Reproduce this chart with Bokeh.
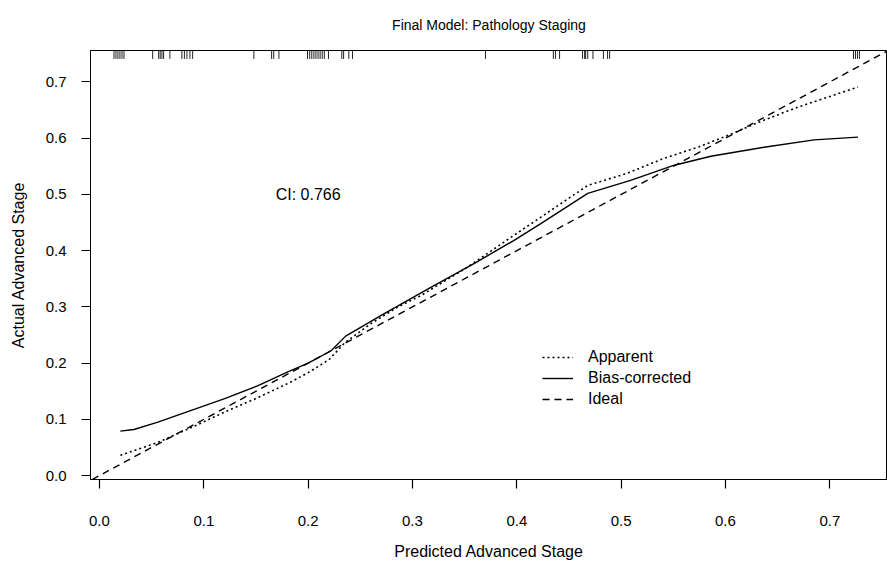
from bokeh.plotting import figure
from bokeh.models import Range1d, Slope, Legend, LegendItem, FixedTicker
from bokeh.core.properties import value
from bokeh.embed import file_html
from bokeh.resources import INLINE

FONT = "Liberation Sans"

title_text = "Final Model: Pathology Staging"
x_title = "Predicted Advanced Stage"
y_title = "Actual Advanced Stage"
ci_text = "CI: 0.766"
ci_pos = (0.2, 0.5)

ticks = [0.0, 0.1, 0.2, 0.3, 0.4, 0.5, 0.6, 0.7]
tick_labels = ["0.0", "0.1", "0.2", "0.3", "0.4", "0.5", "0.6", "0.7"]

apparent_x = [0.020, 0.056, 0.090, 0.120, 0.150, 0.183, 0.200, 0.220, 0.235, 0.260,
              0.286, 0.308, 0.353, 0.397, 0.421, 0.468, 0.505, 0.541, 0.575, 0.605,
              0.634, 0.669, 0.727]
apparent_y = [0.036, 0.059, 0.087, 0.113, 0.137, 0.166, 0.183, 0.206, 0.236, 0.270,
              0.300, 0.320, 0.371, 0.427, 0.457, 0.516, 0.537, 0.564, 0.585, 0.607,
              0.630, 0.655, 0.691]

bias_x = [0.020, 0.033, 0.056, 0.088, 0.120, 0.152, 0.180, 0.200, 0.222, 0.236,
          0.270, 0.318, 0.359, 0.397, 0.423, 0.468, 0.509, 0.551, 0.586, 0.637,
          0.685, 0.727]
bias_y = [0.079, 0.082, 0.095, 0.116, 0.137, 0.160, 0.184, 0.200, 0.222, 0.248,
          0.285, 0.335, 0.377, 0.418, 0.448, 0.502, 0.525, 0.552, 0.568, 0.584,
          0.597, 0.602]

rug_x = [0.0139, 0.0158, 0.0177, 0.0196, 0.0216, 0.0235, 0.051, 0.0567, 0.0582,
         0.0599, 0.0615, 0.0675, 0.079, 0.0814, 0.0838, 0.0867, 0.0893, 0.148,
         0.165, 0.167, 0.172, 0.1994, 0.2015, 0.2035, 0.2055, 0.2075, 0.2095,
         0.2115, 0.2135, 0.2155, 0.2195, 0.2323, 0.234, 0.239, 0.2425, 0.370,
         0.435, 0.437, 0.441, 0.463, 0.465, 0.466, 0.468, 0.473, 0.483, 0.487,
         0.489, 0.7227, 0.7246, 0.7265, 0.7284]

x_range = Range1d(-0.0086, 0.7553)
y_range = Range1d(-0.007, 0.756)

p = figure(width=887, height=562, output_backend="svg", toolbar_location=None,
           x_range=x_range, y_range=y_range,
           min_border_left=90, min_border_right=0, min_border_top=50,
           min_border_bottom=83)

p.title.text = title_text
p.title.align = "center"
p.title.vertical_align = "top"
p.title.text_font = FONT
p.title.text_font_size = "14px"
p.title.text_font_style = "normal"
p.title.text_color = "black"
p.title.standoff = 32

p.grid.visible = False
p.outline_line_color = "black"
p.outline_line_width = 1
p.background_fill_color = "white"
p.border_fill_color = "white"

for ax in (p.xaxis[0], p.yaxis[0]):
    ax.ticker = FixedTicker(ticks=ticks)
    ax.major_label_overrides = {t: l for t, l in zip(ticks, tick_labels)}
    ax.major_label_text_font = FONT
    ax.major_label_text_font_size = "15px"
    ax.major_label_text_color = "black"
    ax.axis_label_text_font = FONT
    ax.axis_label_text_font_size = "16px"
    ax.axis_label_text_font_style = "normal"
    ax.axis_label_text_color = "black"
    ax.major_tick_in = 0
    ax.major_tick_out = 9
    ax.major_tick_line_width = 1.2
    ax.minor_tick_line_color = None
    ax.axis_line_color = "black"
    ax.major_tick_line_color = "black"

p.xaxis.axis_label = x_title
p.yaxis.axis_label = y_title
p.xaxis.major_label_standoff = 27
p.xaxis.axis_label_standoff = 14
p.yaxis.major_label_standoff = 15
p.yaxis.axis_label_standoff = 16

# ideal line
ideal = Slope(gradient=1, y_intercept=0, line_color="black", line_width=1.4,
              line_dash="7 5")
p.add_layout(ideal)

r_app = p.line(apparent_x, apparent_y, line_color="black", line_width=1.6,
               line_dash="2 3")
r_bias = p.line(bias_x, bias_y, line_color="black", line_width=1.4)
# legend proxy for the ideal line
r_ideal = p.line([0, 0], [0, 0], line_color="black", line_width=1.4,
                 line_dash="7 5")
r_ideal.visible = False

# rug on top
top = y_range.end
p.segment(x0=rug_x, y0=[top] * len(rug_x), x1=rug_x,
          y1=[top - 0.015] * len(rug_x), line_color="#222222", line_width=1)

p.text(x=[ci_pos[0]], y=[ci_pos[1]], text=[ci_text], text_align="center",
       text_baseline="middle", text_font=value(FONT), text_font_size="16px",
       text_color="black")

legend = Legend(items=[LegendItem(label="Apparent", renderers=[r_app]),
                       LegendItem(label="Bias-corrected", renderers=[r_bias]),
                       LegendItem(label="Ideal", renderers=[r_ideal])],
                location=(452, 70), padding=0, margin=0, spacing=1,
                glyph_width=31, glyph_height=20, label_height=20,
                label_standoff=15, label_text_font=FONT,
                label_text_font_size="16px", label_text_color="black",
                border_line_alpha=0, background_fill_alpha=0)
p.add_layout(legend, "center")

open("out.html", "w").write(file_html(p, INLINE))
